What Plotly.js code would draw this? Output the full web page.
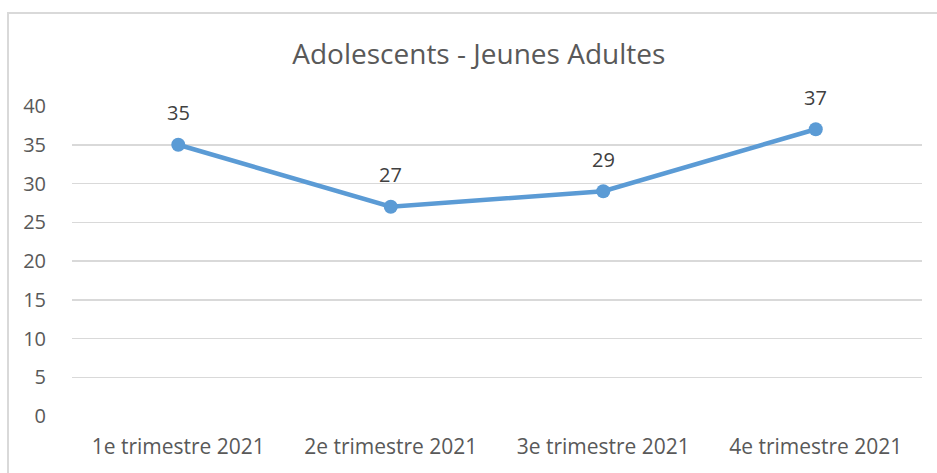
<!DOCTYPE html>
<html><head><meta charset="utf-8">
<script src="https://cdn.plot.ly/plotly-3.0.1.min.js"></script>
<style>
html,body{margin:0;padding:0;background:#fff;overflow:hidden}
#frame{position:absolute;left:7px;top:12px;width:940px;height:470px;border:2px solid #d9d9d9;box-sizing:border-box}
#chart{position:absolute;left:0;top:0;width:937px;height:473px}
</style></head>
<body>
<div id="frame"></div>
<div id="chart"></div>
<script>
const categories = ["1e trimestre 2021","2e trimestre 2021","3e trimestre 2021","4e trimestre 2021"];
const values = [35, 27, 29, 37];
const yTicks = [0,5,10,15,20,25,30,35,40];

const font = "'Open Sans', 'Liberation Sans', sans-serif";
const trace = {
  x: categories, y: values, type: 'scatter', mode: 'lines+markers',
  line: {color: '#5b9bd5', width: 4.5},
  marker: {color: '#5b9bd5', size: 14},
  hoverinfo: 'skip', cliponaxis: false
};
const annotations = categories.map((c,i)=>({
  x: c, y: values[i], text: String(values[i]), showarrow: false,
  yshift: 32, font: {family: font, size: 20, color: '#404040'}
}));
const layout = {
  width: 937, height: 473,
  paper_bgcolor: 'rgba(0,0,0,0)', plot_bgcolor: 'rgba(0,0,0,0)',
  margin: {l: 72, r: 15, t: 105.5, b: 56.5},
  showlegend: false,
  title: {text: 'Adolescents - Jeunes Adultes', x: 0.511, xanchor: 'center', y: 0.885, yanchor: 'middle',
          font: {family: font, size: 28, color: '#595959'}},
  xaxis: {type: 'category', range: [-0.5, 3.5], showgrid: false, zeroline: false, showline: false,
          ticks: 'outside', ticklen: 12, tickcolor: 'rgba(0,0,0,0)',
          tickfont: {family: font, size: 21, color: '#595959'}, fixedrange: true},
  yaxis: {range: [0, 40], tickvals: yTicks, showgrid: true, gridcolor: '#d9d9d9', gridwidth: 1.5,
          zeroline: false, showline: false, ticks: 'outside', ticklen: 21, tickcolor: 'rgba(0,0,0,0)',
          tickfont: {family: font, size: 20, color: '#595959'}, fixedrange: true},
  annotations: annotations
};
Plotly.newPlot('chart', [trace], layout, {displayModeBar: false, staticPlot: true});
</script>
</body></html>
